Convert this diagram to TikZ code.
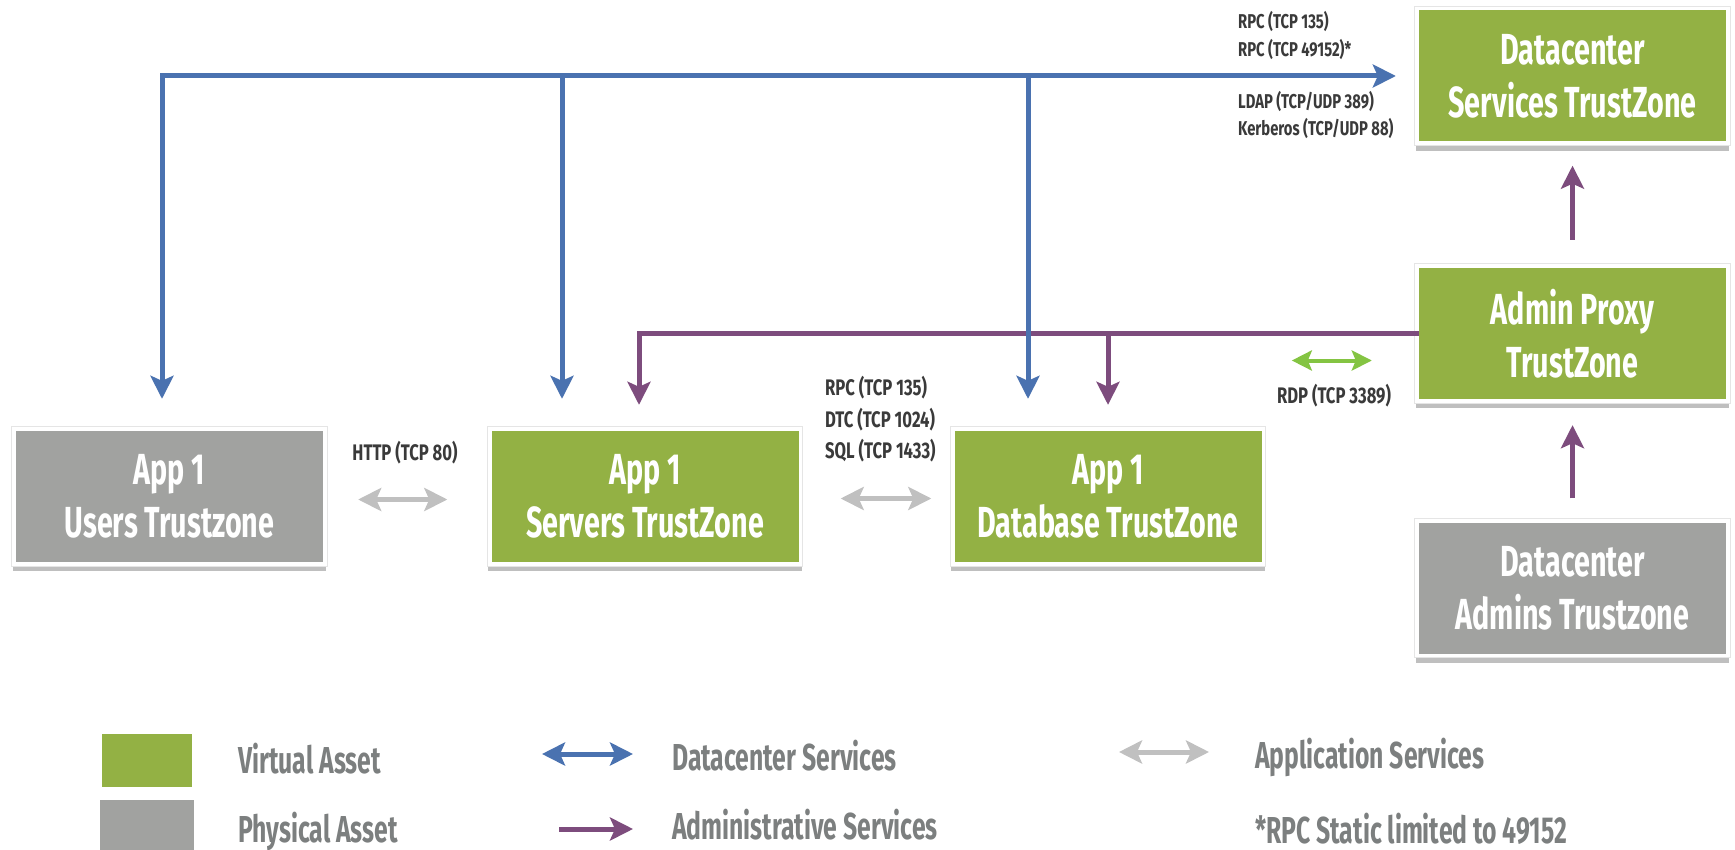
\documentclass[tikz,border=0pt]{standalone}
\usepackage{fontspec}
\newfontfamily\cond{Fira Sans}[FakeStretch=0.74]
\newfontfamily\condtall{Fira Sans}[FakeStretch=0.66]
\usetikzlibrary{arrows.meta,backgrounds,calc}

\definecolor{zgreen}{RGB}{147,177,68}
\definecolor{zgray}{RGB}{161,162,160}
\definecolor{dcblue}{RGB}{74,114,176}
\definecolor{admpurple}{RGB}{125,76,125}
\definecolor{appgray}{RGB}{192,192,192}
\definecolor{rdpgreen}{RGB}{132,196,66}
\definecolor{labeltext}{RGB}{58,58,58}
\definecolor{legendtext}{RGB}{124,127,127}

\begin{document}
\begin{tikzpicture}[x=1pt,y=-1pt,
  >={Stealth[length=23pt,width=23pt,inset=5pt]},
  zone/.style={rectangle, inner sep=0pt, minimum width=307pt, minimum height=131pt,
    fill=#1, text=white, align=center,
    font=\condtall\bfseries\fontsize{43.5}{53}\selectfont},
  dc/.style={draw=dcblue, line width=5pt},
  adm/.style={draw=admpurple, line width=5pt},
  app/.style={draw=appgray, line width=5pt},
  rdp/.style={draw=rdpgreen, line width=4pt,
    >={Stealth[length=20pt,width=20pt,inset=4pt]}},
  smalllbl/.style={inner sep=0pt, anchor=base west, text=labeltext,
    font=\cond\bfseries\fontsize{20}{27}\selectfont},
  lbl/.style={inner sep=0pt, anchor=base west, text=labeltext,
    font=\cond\bfseries\fontsize{22.5}{31}\selectfont},
  leg/.style={inner sep=0pt, anchor=base west, text=legendtext,
    font=\condtall\bfseries\fontsize{37.5}{40}\selectfont},
  swatch/.style={rectangle, inner sep=0pt, fill=#1}
]
\useasboundingbox (0,0) rectangle (1735,850);

% trust zones
\node[zone=zgreen] (dcs)      at (1572.5,76)    {Datacenter\\Services TrustZone};
\node[zone=zgreen] (proxy)    at (1572.5,333.5) {Admin Proxy\\TrustZone};
\node[zone=zgray]  (admins)   at (1572.5,588)   {Datacenter\\Admins Trustzone};
\node[zone=zgray]  (users)    at (169.5,496.5)  {App 1\\Users Trustzone};
\node[zone=zgreen] (servers)  at (645,496.5)    {App 1\\Servers TrustZone};
\node[zone=zgreen] (database) at (1108,496.5)   {App 1\\Database TrustZone};

% white frames and drop shadows behind the zones
\begin{scope}[on background layer]
  \fill[white] (0,0) rectangle (1735,850);
  \foreach \n in {dcs,proxy,admins,users,servers,database}{
    \fill[black!25] ([shift={(-3,0)}]\n.south west) rectangle ([shift={(3,9)}]\n.south east);
    \filldraw[fill=white, draw=black!10, line width=0.8pt]
      ([shift={(-4,-4)}]\n.north west) rectangle ([shift={(4,4)}]\n.south east);
  }
\end{scope}

% administrative services
\draw[adm,->] (proxy.west) -| ([xshift=-6pt,yshift=26pt]servers.north);
\draw[adm,->] (database.north |- proxy.west) -- ([yshift=26pt]database.north);
\draw[adm,->] ([yshift=28pt]proxy.north) -- ([yshift=-24pt]dcs.south);
\draw[adm,->] ([yshift=24pt]admins.north) -- ([yshift=-26pt]proxy.south);

% datacenter services
\coordinate (bus) at (dcs.west);
\draw[dc,<->] ([xshift=-7.5pt,yshift=32pt]users.north) |- ([xshift=-23pt]dcs.west);
\draw[dc,->] ([xshift=-83pt]servers.north |- bus) -- ([xshift=-83pt,yshift=32pt]servers.north);
\draw[dc,->] ([xshift=-80pt]database.north |- bus) -- ([xshift=-80pt,yshift=32pt]database.north);

% application services
\draw[app,<->] ([xshift=35pt,yshift=-3pt]users.east) -- ([xshift=-44pt,yshift=-3pt]servers.west);
\draw[app,<->] ([xshift=42pt,yshift=-2pt]servers.east) -- ([xshift=-23pt,yshift=-2pt]database.west);

% remote desktop
\draw[rdp,<->] ([xshift=-127pt,yshift=-27pt]proxy.west) -- ([xshift=-47pt,yshift=-27pt]proxy.west);

% port labels
\node[smalllbl] (p1) at (1238,29)  {RPC (TCP 135)};
\node[smalllbl] (p2) at (1238,57)  {RPC (TCP 49152)*};
\node[smalllbl] (p3) at (1238,109) {LDAP (TCP/UDP 389)};
\node[smalllbl] (p4) at (1238,136) {Kerberos (TCP/UDP 88)};
\node[lbl] (m1) at (825,395) {RPC (TCP 135)};
\node[lbl] (m2) at (825,427) {DTC (TCP 1024)};
\node[lbl] (m3) at (825,458) {SQL (TCP 1433)};
\node[lbl,anchor=base] (http) at (405,460) {HTTP (TCP 80)};
\node[lbl,anchor=base] (rdpl) at (1334,403) {RDP (TCP 3389)};

% legend
\node[swatch=zgreen, minimum width=90pt, minimum height=53pt] (sv) at (147,760.5) {};
\node[swatch=zgray,  minimum width=94pt, minimum height=54pt] (sp) at (147,827) {};
\node[leg] (tv)  at (238,773)  {Virtual Asset};
\node[leg] (tp)  at (238,842)  {Physical Asset};
\node[leg] (tdc) at (672,770)  {Datacenter Services};
\node[leg] (tad) at (672,839)  {Administrative Services};
\node[leg] (tap) at (1255,768) {Application Services};
\node[leg] (tnote) at (1255,843) {*RPC Static limited to 49152};
\draw[dc,<->]  ($(tdc.base west)+(-130,-16)$) -- ($(tdc.base west)+(-39,-16)$);
\draw[adm,->]  ($(tad.base west)+(-113,-10)$) -- ($(tad.base west)+(-39,-10)$);
\draw[app,<->] ($(tap.base west)+(-136,-16)$) -- ($(tap.base west)+(-46,-16)$);
\end{tikzpicture}
\end{document}
